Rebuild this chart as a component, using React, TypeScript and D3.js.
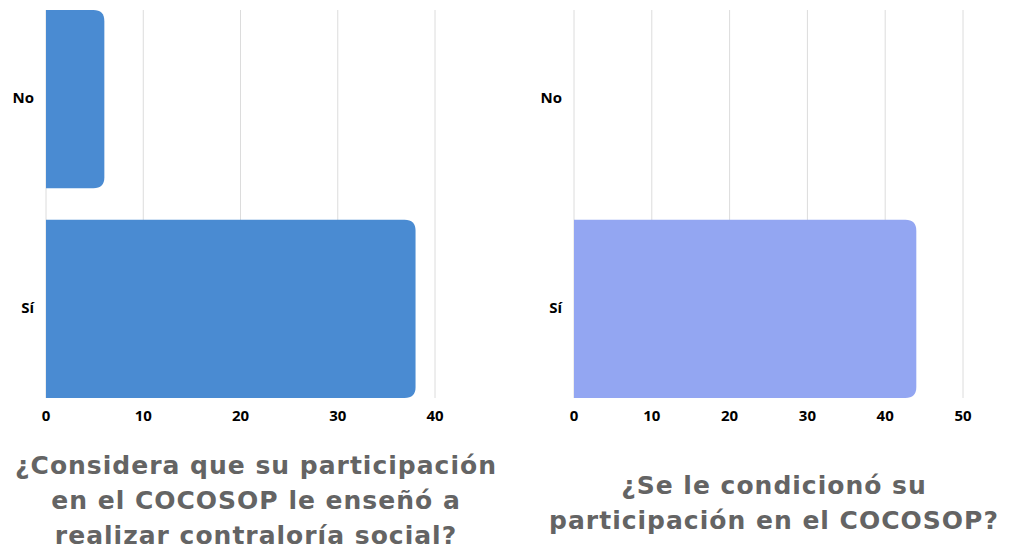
import { scaleBand, scaleLinear } from "d3";

const categories = ["No", "Sí"];
const leftValues = [6, 38];
const rightValues = [0, 44];
const leftTicks = [0, 10, 20, 30, 40];
const rightTicks = [0, 10, 20, 30, 40, 50];
const leftTitle = ["¿Considera que su participación", "en el COCOSOP le enseñó a", "realizar contraloría social?"];
const rightTitle = ["¿Se le condicionó su", "participación en el COCOSOP?"];

const labelFont = "'Open Sans', sans-serif";

// bar with rounded right end only
const barPath = (x0: number, x1: number, y0: number, h: number, r: number) => {
  const w = x1 - x0;
  if (w <= 0) return "";
  const rr = Math.min(r, w, h / 2);
  return `M${x0},${y0}H${x1 - rr}Q${x1},${y0} ${x1},${y0 + rr}V${y0 + h - rr}Q${x1},${y0 + h} ${x1 - rr},${y0 + h}H${x0}Z`;
};

const BarPanel = ({
  values,
  tickVals,
  x0,
  x1,
  color,
  title,
  titleX,
  titleY,
}: {
  values: number[];
  tickVals: number[];
  x0: number;
  x1: number;
  color: string;
  title: string[];
  titleX: number;
  titleY: number;
}) => {
  const xScale = scaleLinear()
    .domain([0, tickVals[tickVals.length - 1]])
    .range([x0, x1]);
  const yScale = scaleBand<string>()
    .domain(categories)
    .range([10, 398])
    .paddingInner(0.15)
    .paddingOuter(0);

  return (
    <g>
      {tickVals.map((t) => (
        <line
          key={t}
          x1={xScale(t)}
          x2={xScale(t)}
          y1={10}
          y2={398}
          stroke="#dcdcdc"
          strokeWidth={1}
        />
      ))}
      {categories.map((c, i) => (
        <path
          key={c}
          d={barPath(xScale(0), xScale(values[i]), yScale(c)!, yScale.bandwidth(), 11)}
          fill={color}
        />
      ))}
      {categories.map((c) => (
        <text
          key={c}
          x={xScale(0) - 12}
          y={yScale(c)! + yScale.bandwidth() / 2}
          textAnchor="end"
          dominantBaseline="middle"
          fontFamily={labelFont}
          fontWeight={700}
          fontSize={15}
          fill="#000"
        >
          {c}
        </text>
      ))}
      {tickVals.map((t) => (
        <text
          key={t}
          x={xScale(t)}
          y={421}
          textAnchor="middle"
          fontFamily={labelFont}
          fontWeight={700}
          fontSize={15}
          fill="#000"
        >
          {t}
        </text>
      ))}
      {title.map((line, i) => (
        <text
          key={i}
          x={titleX}
          y={titleY + i * 35}
          textAnchor="middle"
          fontFamily="'DejaVu Sans', sans-serif"
          fontWeight={700}
          fontSize={25}
          letterSpacing={1}
          fill="#646464"
        >
          {line}
        </text>
      ))}
    </g>
  );
};

export default function App() {
  return (
    <svg
      width={1013}
      height={554}
      style={{ position: "absolute", left: 0, top: 0, background: "#fff" }}
    >
      <BarPanel
        values={leftValues}
        tickVals={leftTicks}
        x0={46}
        x1={435}
        color="#4a8bd2"
        title={leftTitle}
        titleX={256}
        titleY={474}
      />
      <BarPanel
        values={rightValues}
        tickVals={rightTicks}
        x0={574}
        x1={963}
        color="#93a6f2"
        title={rightTitle}
        titleX={774}
        titleY={494}
      />
    </svg>
  );
}
